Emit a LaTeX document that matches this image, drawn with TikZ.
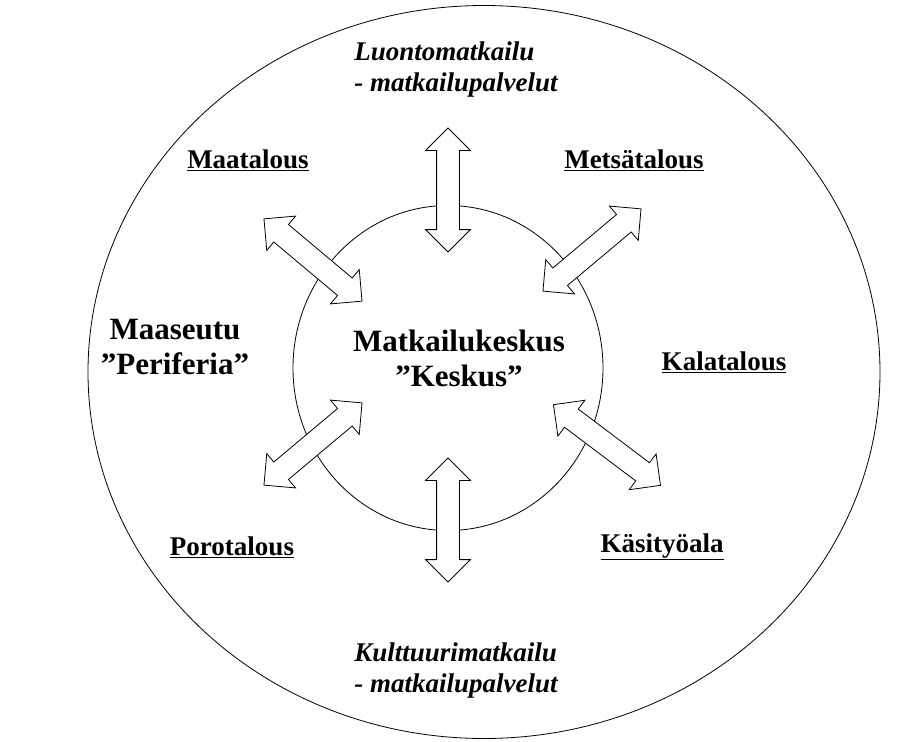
\documentclass[tikz,border=0pt]{standalone}
\usepackage{fontspec}
\setmainfont{Liberation Serif}
\usetikzlibrary{shapes.arrows,shapes.geometric}
\begin{document}
\begin{tikzpicture}[x=1pt,y=-1pt,
  darr/.style={double arrow, draw, line width=0.8pt, fill=white, inner xsep=0pt, inner ysep=11pt, double arrow head extend=11pt, double arrow head indent=0pt, anchor=center},
  lab/.style={font=\fontsize{27}{30}\selectfont\bfseries},
  ital/.style={font=\fontsize{27}{31}\selectfont\bfseries\itshape, align=left},
  big/.style={font=\fontsize{31}{35}\selectfont\bfseries, align=center}]
\useasboundingbox (0,0) rectangle (898,742);
\node[draw, ellipse, line width=0.8pt, minimum width=792pt, minimum height=733pt, inner sep=0pt] (outer) at (484,372) {};
\node[draw, ellipse, line width=0.8pt, minimum width=310pt, minimum height=325pt, inner sep=0pt] (inner) at (448,368) {};
\node[darr, minimum height=124pt, rotate=90] (a1) at (448,190) {};
\node[darr, minimum height=124pt, rotate=90] (a2) at (448,520) {};
\node[darr, minimum height=128pt, rotate=-40] (a3) at (313,260) {};
\node[darr, minimum height=128pt, rotate=40] (a4) at (592,250) {};
\node[darr, minimum height=128pt, rotate=40] (a5) at (313,444) {};
\node[darr, minimum height=134pt, rotate=-37] (a6) at (607,445) {};
\node[big] (c) at (459,358) {Matkailukeskus\\"Keskus"};
\node[big] (p) at (175,347) {Maaseutu\\"Periferia"};
\node[ital] (t) at (456,70) {Luontomatkailu\\- matkailupalvelut};
\node[ital] (b) at (456,670) {Kulttuurimatkailu\\- matkailupalvelut};
\node[lab] (m1) at (248,160) {\underline{Maatalous}};
\node[lab] (m2) at (634,160) {\underline{Metsätalous}};
\node[lab] (m3) at (724,362) {\underline{Kalatalous}};
\node[lab] (m4) at (232,547) {\underline{Porotalous}};
\node[lab] (m5) at (662,547) {\underline{Käsityöala}};
\end{tikzpicture}
\end{document}
